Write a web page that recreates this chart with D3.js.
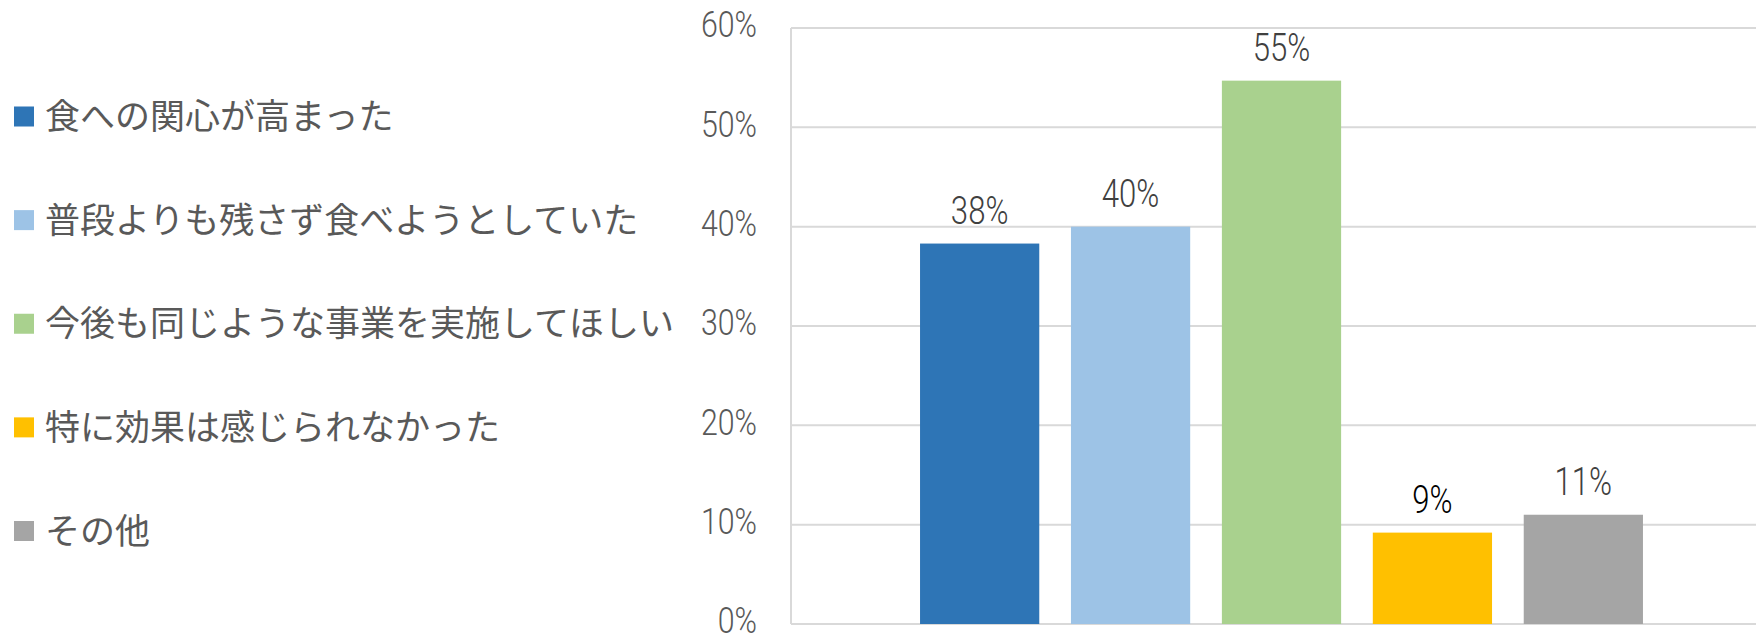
<!DOCTYPE html>
<html>
<head>
<meta charset="utf-8">
<script src="https://cdn.jsdelivr.net/npm/d3@7"></script>
<style>
  body { margin: 0; background: #fff; }
  .num { font-family: Roboto, "DejaVu Sans", sans-serif; font-weight: 300; }
  .leg { font-family: "Noto Sans CJK JP", sans-serif; }
</style>
</head>
<body>
<script>
// chart data
var categories = ["食への関心が高まった", "普段よりも残さず食べようとしていた", "今後も同じような事業を実施してほしい", "特に効果は感じられなかった", "その他"];
var values = [38.3, 40.0, 54.7, 9.2, 11.0];
var valueLabels = ["38%", "40%", "55%", "9%", "11%"];
var colors = ["#2E75B6", "#9DC3E6", "#A9D18E", "#FFC000", "#A5A5A5"];
var tickValues = [0, 10, 20, 30, 40, 50, 60];

var width = 1756;
var height = 635;
var plotLeft = 791, plotRight = 1756, plotTop = 28, plotBottom = 624;
var squeeze = 0.82;  // the digits in the original are set in a narrow face

var svg = d3.select("body")
            .append("svg")
            .attr("width", width)
            .attr("height", height);

var yScale = d3.scaleLinear()
               .domain([0, 60])
               .range([plotBottom, plotTop]);

var xScale = d3.scaleBand()
               .domain(categories)
               .range([plotLeft, 1772])
               .paddingInner(0.21)
               .paddingOuter(0.855);

// gridlines
svg.append("g")
   .selectAll("line")
   .data(tickValues)
   .enter()
   .append("line")
   .attr("x1", plotLeft)
   .attr("x2", plotRight)
   .attr("y1", function(d) { return yScale(d); })
   .attr("y2", function(d) { return yScale(d); })
   .attr("stroke", "#d9d9d9")
   .attr("stroke-width", 2);

// left axis line
svg.append("line")
   .attr("x1", plotLeft).attr("x2", plotLeft)
   .attr("y1", plotTop).attr("y2", plotBottom)
   .attr("stroke", "#d9d9d9")
   .attr("stroke-width", 2);

// y tick labels
var yAxis = d3.axisLeft(yScale)
              .tickValues(tickValues)
              .tickSize(0)
              .tickPadding(34)
              .tickFormat(function(d) { return d + "%"; });

var yg = svg.append("g")
   .attr("transform", "translate(" + plotLeft + ",-3)")
   .call(yAxis);
yg.select(".domain").remove();
yg.selectAll("text")
  .attr("class", "num")
  .attr("font-size", 37)
  .attr("fill", "#595959")
  .attr("x", -34 / squeeze)
  .attr("transform", "scale(" + squeeze + ",1)");

// bars
svg.selectAll("rect.bar")
   .data(values)
   .enter()
   .append("rect")
   .attr("class", "bar")
   .attr("x", function(d, i) { return xScale(categories[i]); })
   .attr("y", function(d) { return yScale(d); })
   .attr("width", xScale.bandwidth())
   .attr("height", function(d) { return plotBottom - yScale(d); })
   .attr("fill", function(d, i) { return colors[i]; });

// value labels
svg.selectAll("text.val")
   .data(values)
   .enter()
   .append("text")
   .attr("class", "num")
   .attr("transform", function(d, i) {
      var cx = xScale(categories[i]) + xScale.bandwidth() / 2;
      return "translate(" + cx + "," + (yScale(d) - 20) + ") scale(" + squeeze + ",1)";
   })
   .attr("text-anchor", "middle")
   .attr("font-size", 38)
   .attr("fill", function(d, i) { return i == 3 ? "#000000" : "#404040"; })
   .text(function(d, i) { return valueLabels[i]; });

// legend
var legendY = d3.scalePoint()
                .domain(categories)
                .range([116.5, 531]);

var legend = svg.append("g");
var items = legend.selectAll("g")
   .data(categories)
   .enter()
   .append("g")
   .attr("transform", function(d) { return "translate(0," + legendY(d) + ")"; });

items.append("rect")
   .attr("x", 14)
   .attr("y", -10)
   .attr("width", 20)
   .attr("height", 20)
   .attr("fill", function(d, i) { return colors[i]; });

items.append("text")
   .attr("class", "leg")
   .attr("x", 45)
   .attr("y", 0)
   .attr("dy", "0.36em")
   .attr("font-size", 35)
   .attr("fill", "#595959")
   .text(function(d) { return d; });
</script>
</body>
</html>
